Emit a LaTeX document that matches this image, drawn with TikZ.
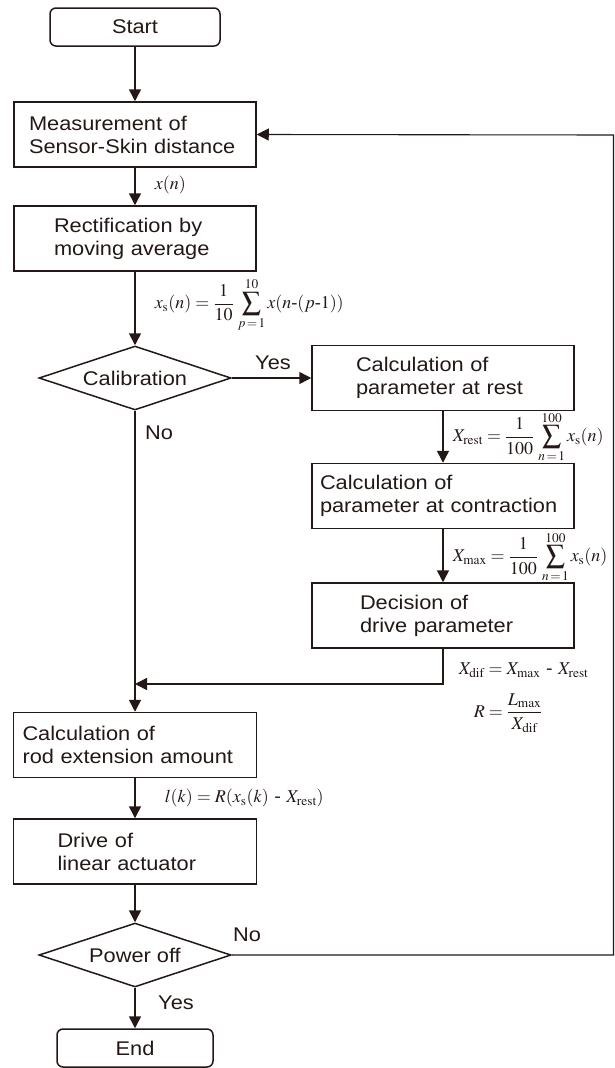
\documentclass[tikz,border=0pt]{standalone}
\usepackage{amsmath}
\usepackage{mathptmx}
\usepackage[no-math]{fontspec}
\setmainfont{Liberation Sans}[FakeStretch=1.1]
\newfontfamily\serifhy{Liberation Serif}
\usetikzlibrary{shapes.geometric,arrows.meta}
\definecolor{ink}{HTML}{231815}
\newcommand{\rmsub}[1]{_{\mathrm{#1}}}
\newcommand{\hy}{\mbox{\serifhy -}}
\newcommand{\bigsum}{\mathop{\vcenter{\hbox{\fontsize{27}{27}\selectfont$\textstyle\sum$}}}\limits}

\begin{document}
\begin{tikzpicture}[x=1pt, y=-1pt, color=ink, line width=1.5pt,
    >={Triangle[length=12pt,width=12pt]},
    box/.style={draw, rectangle, minimum height=65pt, align=left,
      font=\fontsize{19.8}{23}\selectfont},
    termbox/.style={draw, rectangle, rounded corners=6pt, minimum height=38pt,
      font=\fontsize{19.8}{23}\selectfont},
    decide/.style={draw, diamond, aspect=3, inner sep=0pt,
      minimum width=192pt, minimum height=64pt,
      font=\fontsize{19.8}{23}\selectfont},
    txt/.style={font=\fontsize{19.8}{23}\selectfont},
    eq/.style={anchor=west, inner sep=0pt, font=\fontsize{18}{21}\selectfont}]
  \useasboundingbox (0,0) rectangle (615,1068);

  % Main column
  \node[termbox, minimum width=170pt] (start) at (135,27) {Start};
  \node[box, inner xsep=15pt, text width=212pt] (meas) at (135,134.5)
    {Measurement of\\Sensor-Skin distance};
  \node[box, inner xsep=40pt, text width=162pt] (rect) at (135,238.5)
    {Rectification by\\moving average};
  \node[decide] (cal) at (135,378) {Calibration};

  % Calibration branch
  \node[box, inner xsep=44pt, text width=174pt] (rest) at (443,378)
    {Calculation of\\parameter at rest};
  \node[box, inner xsep=8pt, text width=246pt] (cont) at (443,496)
    {Calculation of\\parameter at contraction};
  \node[box, inner xsep=48pt, text width=166pt] (dec) at (443,615.5)
    {Decision of\\drive parameter};

  % Lower column
  \coordinate (merge) at (135,684);
  \node[box, inner xsep=9pt, text width=225pt] (rod) at (135,745)
    {Calculation of\\rod extension amount};
  \node[box, inner xsep=44pt, text width=155pt] (drive) at (135,851.5)
    {Drive of\\linear actuator};
  \node[decide] (power) at (135,955) {Power off};
  \node[termbox, minimum width=156pt] (end) at (135,1048) {End};

  % Loop back corners
  \coordinate (cornerlow) at (613.5,955);
  \coordinate (cornerup) at (613.5,135);

  % Connections
  \draw[->] (start) -- (meas);
  \draw[->] (meas) -- (rect);
  \draw[->] (rect) -- (cal);
  \draw[->] (cal) -- (rest);
  \draw[->] (rest) -- (cont);
  \draw[->] (cont) -- (dec);
  \draw[->] (dec.south) |- (merge);
  \draw[->] (cal.south) -- (rod.north);
  \draw[->] (rod) -- (drive);
  \draw[->] (drive) -- (power);
  \draw[->] (power) -- (end);
  \draw[->, line width=1.1pt] (power.east) -- (cornerlow) -- (cornerup) -- (meas.east);

  % Branch labels
  \node[txt] (yescal) at (273,363) {Yes};
  \node[txt] (nocal) at (159,433) {No};
  \node[txt] (nopow) at (247,935) {No};
  \node[txt] (yespow) at (176,1003) {Yes};

  % Formulas
  \node[eq] (xn) at (154,185) {$x(n)$};
  \node[eq] (xsn) at (154,305)
    {$x\rmsub{s}(n) = \dfrac{1}{10}\,\bigsum_{p\,=\,1}^{10} x(n\hy(p\hy1))$};
  \node[eq] (xrest) at (452,437)
    {$X\rmsub{rest} = \dfrac{1}{100}\,\bigsum_{n\,=\,1}^{100} x\rmsub{s}(n)$};
  \node[eq] (xmax) at (452,557)
    {$X\rmsub{max} = \dfrac{1}{100}\,\bigsum_{n\,=\,1}^{100} x\rmsub{s}(n)$};
  \node[eq] (xdif) at (458,670)
    {$X\rmsub{dif} = X\rmsub{max}\mbox{ - }X\rmsub{rest}$};
  \node[eq] (ratio) at (473,713)
    {$R = \dfrac{L\rmsub{max}}{X\rmsub{dif}}$};
  \node[eq] (lk) at (164,798)
    {$l(k) = R(x\rmsub{s}(k)\mbox{ - }X\rmsub{rest})$};
\end{tikzpicture}
\end{document}
